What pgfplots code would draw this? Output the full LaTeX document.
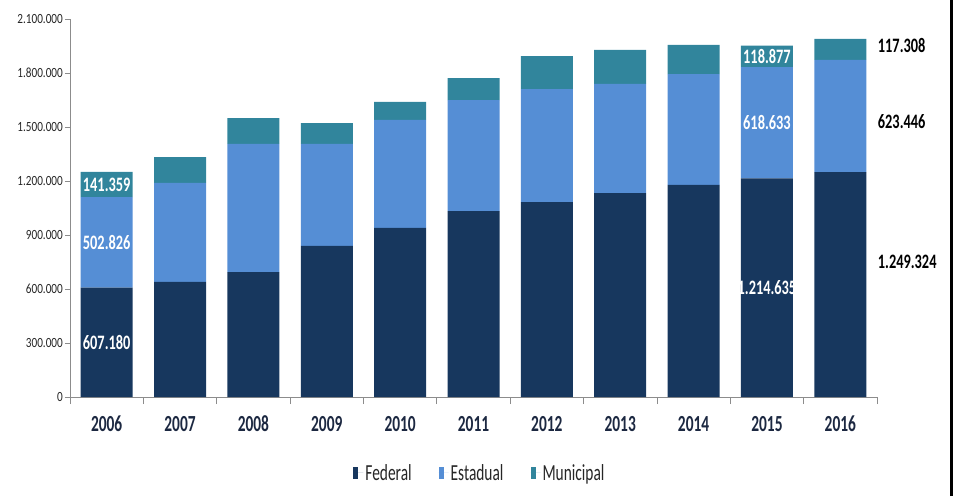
\documentclass[border=0pt]{standalone}
\usepackage{fontspec}
\setmainfont{Carlito}
\newfontfamily\cfont[FakeStretch=0.67]{Carlito}
\newfontfamily\lfont[FakeStretch=0.7]{Carlito}
\newfontfamily\yfont[FakeStretch=0.8]{Carlito}
\usepackage{pgfplots}
\usepackage{pgfplotstable}
\pgfplotsset{compat=1.18}
\definecolor{fed}{HTML}{17375E}
\definecolor{est}{HTML}{558ED5}
\definecolor{mun}{HTML}{31859C}
\definecolor{axgray}{HTML}{8C8C8C}
\definecolor{yearc}{HTML}{1C2841}
\definecolor{txt}{HTML}{262626}
\tikzset{lab/.style={font=\lfont\bfseries\fontsize{20.5}{20.5}\selectfont, inner sep=0pt}}

\pgfplotstableread{
x fed est mun
0 607180 502826 141359
1 639000 550000 144000
2 694000 712000 144000
3 839000 567000 116000
4 939000 600000 100000
5 1033000 617000 122000
6 1083000 628000 183000
7 1133000 606000 189000
8 1178000 616000 162000
9 1214635 618633 118877
10 1249324 623446 117308
}\data

\begin{document}
\begin{tikzpicture}
\path[use as bounding box] (-70pt,-99pt) rectangle (884pt,397pt);
\begin{axis}[
  at={(0pt,0pt)}, anchor=south west,
  scale only axis, width=807pt, height=378pt,
  xmin=-0.5, xmax=10.5, ymin=0, ymax=2100000,
  ybar stacked, bar width=52pt,
  clip=false,
  axis x line*=bottom, axis y line*=left,
  axis line style={draw=axgray, line width=0.8pt},
  tick align=outside,
  tick style={draw=axgray, line width=0.8pt},
  major tick length=5pt, minor tick length=7pt,
  xtick={0,...,10},
  xticklabels={2006,2007,2008,2009,2010,2011,2012,2013,2014,2015,2016},
  major x tick style={draw=none},
  minor xtick={-0.5,0.5,...,10.5},
  ytick={0,300000,600000,900000,1200000,1500000,1800000,2100000},
  yticklabels={0,300.000,600.000,900.000,1.200.000,1.500.000,1.800.000,2.100.000},
  scaled y ticks=false,
  yticklabel style={font=\yfont\fontsize{14}{14}\selectfont, text=txt, anchor=east, inner sep=0pt, xshift=-2pt},
  xticklabel style={font=\cfont\bfseries\fontsize{23}{23}\selectfont, text=yearc, anchor=base, inner sep=0pt, yshift=-29pt},
  legend style={at={(0.508,-0.201)}, anchor=center, draw=none, fill=none,
    font=\cfont\fontsize{23}{23}\selectfont, text=txt,
    /tikz/every even column/.append style={column sep=25pt}},
  legend columns=3,
  legend image code/.code={\fill[#1] (0pt,-6pt) rectangle (5pt,6pt); \path (0pt,0pt) -- (10pt,0pt);},
]
\addplot[fill=fed, draw=none] table[x=x, y=fed]{\data};
\addplot[fill=est, draw=none] table[x=x, y=est]{\data};
\addplot[fill=mun, draw=none] table[x=x, y=mun]{\data};
\legend{Federal, Estadual, Municipal}
\coordinate (a1) at (axis cs:0,303590);
\coordinate (a2) at (axis cs:0,858593);
\coordinate (a3) at (axis cs:0,1180686);
\coordinate (b1) at (axis cs:9,607318);
\coordinate (b2) at (axis cs:9,1523952);
\coordinate (b3) at (axis cs:9,1892707);
\coordinate (c1) at (axis cs:10.51,750000);
\coordinate (c2) at (axis cs:10.51,1527778);
\coordinate (c3) at (axis cs:10.51,1955556);
\end{axis}
\node[lab, white] at (a1) {607.180};
\node[lab, white] at (a2) {502.826};
\node[lab, white] at (a3) {141.359};
\node[lab, white] at (b1) {1.214.635};
\node[lab, white] at (b2) {618.633};
\node[lab, white] at (b3) {118.877};
\node[lab, black, anchor=west] at (c1) {1.249.324};
\node[lab, black, anchor=west] at (c2) {623.446};
\node[lab, black, anchor=west] at (c3) {117.308};
\draw[line width=3pt] (881.5pt,-99pt) -- (881.5pt,397pt);
\end{tikzpicture}
\end{document}
